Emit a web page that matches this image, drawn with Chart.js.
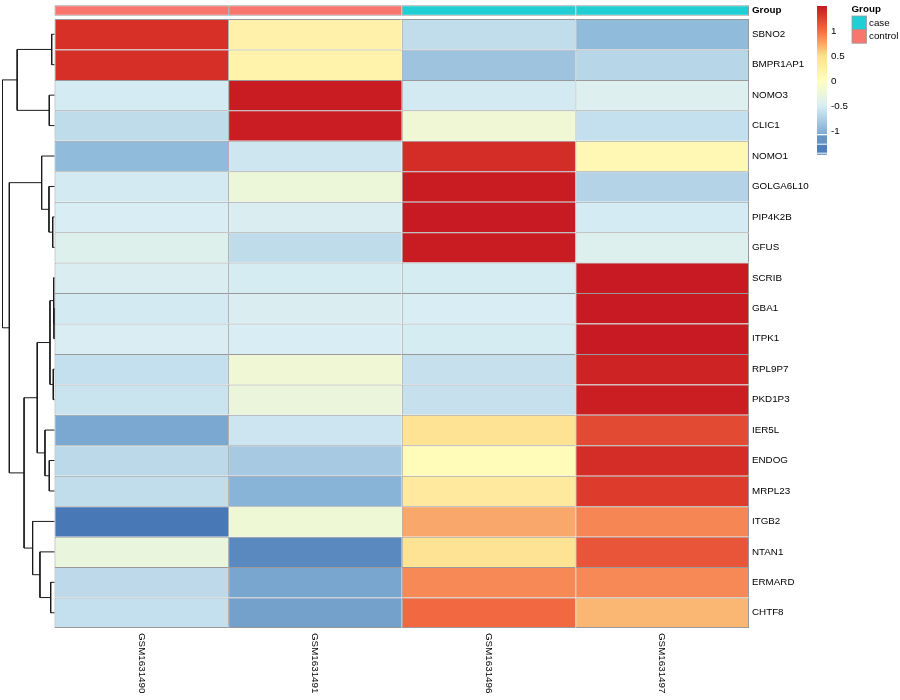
<!DOCTYPE html>
<html>
<head>
<meta charset="utf-8">
<script src="https://cdn.jsdelivr.net/npm/chart.js@4.4.0/dist/chart.umd.min.js"></script>
<style>
  html, body { margin: 0; padding: 0; background: #fff; }
  #wrap { position: relative; width: 900px; height: 700px; }
</style>
</head>
<body>
<div id="wrap"><canvas id="heatmap" width="900" height="700"></canvas></div>
<script>
// rows, top to bottom (dendrogram order)
const genes = ["SBNO2", "BMPR1AP1", "NOMO3", "CLIC1", "NOMO1", "GOLGA6L10", "PIP4K2B", "GFUS",
  "SCRIB", "GBA1", "ITPK1", "RPL9P7", "PKD1P3", "IER5L", "ENDOG", "MRPL23", "ITGB2", "NTAN1",
  "ERMARD", "CHTF8"];
const samples = ["GSM1631490", "GSM1631491", "GSM1631496", "GSM1631497"];
const groups = ["control", "control", "case", "case"];
const groupLevels = ["case", "control"];

// row-scaled expression (z-score), one list per sample, same order as genes
const gsm1631490 = [1.35, 1.36, -0.52, -0.65, -0.93, -0.53, -0.50, -0.42, -0.48, -0.53,
  -0.49, -0.62, -0.59, -1.08, -0.67, -0.64, -1.44, -0.28, -0.66, -0.62];
const gsm1631491 = [0.22, 0.20, 1.49, 1.48, -0.56, -0.24, -0.48, -0.65, -0.51, -0.47,
  -0.50, -0.21, -0.27, -0.57, -0.80, -0.99, -0.20, -1.31, -1.10, -1.13];
const gsm1631496 = [-0.64, -0.86, -0.53, -0.21, 1.38, 1.49, 1.50, 1.49, -0.51, -0.50,
  -0.51, -0.61, -0.61, 0.45, 0.06, 0.35, 0.75, 0.45, 0.88, 1.03];
const gsm1631497 = [-0.93, -0.70, -0.44, -0.62, 0.11, -0.72, -0.52, -0.43, 1.50, 1.50,
  1.50, 1.44, 1.47, 1.20, 1.38, 1.28, 0.89, 1.14, 0.88, 0.68];
const zscores = [gsm1631490, gsm1631491, gsm1631496, gsm1631497];

// row dendrogram merges: [left, right, height]; a string is a gene, a number an earlier merge
const merges = [
  ["SBNO2", "BMPR1AP1", 0.28],
  ["NOMO3", "CLIC1", 0.52],
  [0, 1, 3.72],
  ["PIP4K2B", "GFUS", 0.18],
  ["GOLGA6L10", 3, 0.55],
  ["NOMO1", 4, 1.28],
  ["GBA1", "ITPK1", 0.05],
  ["SCRIB", 6, 0.10],
  ["RPL9P7", "PKD1P3", 0.12],
  [7, 8, 0.45],
  ["ENDOG", "MRPL23", 0.52],
  ["IER5L", 10, 0.95],
  [9, 11, 1.72],
  ["ERMARD", "CHTF8", 0.38],
  ["NTAN1", 13, 1.45],
  ["ITGB2", 14, 2.18],
  [12, 15, 3.03],
  [5, 16, 4.50],
  [2, 17, 5.18],
];

// colour key
const keyTicks = [1, 0.5, 0, -0.5, -1];
const keyMin = -1.46;
const keyMax = 1.5;

// colour ramp (value -> colour)
const rampStops = [-1.46, -1.0, -0.5, 0, 0.5, 1.0, 1.35, 1.5];
const rampColors = ["#4575B4", "#86B3D6", "#D8EDF4", "#FFFFBF", "#FEE090", "#F46D43", "#D73027", "#C81A22"];
const groupColors = { case: "#1FCFD3", control: "#F8766D" };

const FONT = "'Liberation Sans', Arial, Helvetica, sans-serif";
const FONT_SIZE = 9.8;
const CELL_BORDER = "#999999";
const area = { left: 54.5, top: 19, right: 749, bottom: 628 };
const dendroWidth = 52;
const annotTop = 5.3;
const annotHeight = 10.4;

function hexToRgb(h) {
  const n = parseInt(h.slice(1), 16);
  return [(n >> 16) & 255, (n >> 8) & 255, n & 255];
}

function rampColor(v) {
  v = Math.max(rampStops[0], Math.min(rampStops[rampStops.length - 1], v));
  let i = 0;
  while (i < rampStops.length - 2 && v > rampStops[i + 1]) i++;
  const t = (v - rampStops[i]) / (rampStops[i + 1] - rampStops[i]);
  const a = hexToRgb(rampColors[i]);
  const b = hexToRgb(rampColors[i + 1]);
  const c = a.map((x, k) => Math.round(x + (b[k] - x) * t));
  return `rgb(${c[0]},${c[1]},${c[2]})`;
}

// each cell draws its top/left edge, the outer cells also close the frame
function cellBorder(lastCol, lastRow) {
  return { top: 1, left: 1, right: lastCol ? 1 : 0, bottom: lastRow ? 1 : 0 };
}

// heatmap cells, one dataset per sample
const cellDatasets = samples.map((s, c) => ({
  type: "bar",
  label: s,
  indexAxis: "y",
  xAxisID: "x",
  yAxisID: "y",
  data: genes.map(() => [c, c + 1]),
  backgroundColor: zscores[c].map(rampColor),
  borderColor: CELL_BORDER,
  borderWidth: (ctx) => cellBorder(c === samples.length - 1, ctx.dataIndex === genes.length - 1),
  borderSkipped: false,
  grouped: false,
  barPercentage: 1,
  categoryPercentage: 1,
  inflateAmount: 0,
  clip: false,
}));

// annotation bar above the heatmap
const annotDataset = {
  type: "bar",
  label: "Group",
  indexAxis: "x",
  xAxisID: "xa",
  yAxisID: "ya",
  data: samples.map((s, c) => ({ x: c + 0.5, y: [0, 1] })),
  backgroundColor: groups.map((g) => groupColors[g]),
  borderColor: CELL_BORDER,
  borderWidth: (ctx) => cellBorder(ctx.dataIndex === samples.length - 1, true),
  borderSkipped: false,
  grouped: false,
  barPercentage: 1,
  categoryPercentage: 1,
  inflateAmount: 0,
  clip: false,
};

// dendrogram, one line per merge
const nodePos = [];
function childPos(ref) {
  if (typeof ref === "string") return { y: genes.indexOf(ref), h: 0 };
  return nodePos[ref];
}
const dendroDatasets = merges.map(([l, r, h]) => {
  const a = childPos(l);
  const b = childPos(r);
  nodePos.push({ y: (a.y + b.y) / 2, h: h });
  return {
    type: "line",
    xAxisID: "xd",
    yAxisID: "yd",
    data: [
      { x: a.h, y: a.y },
      { x: h, y: a.y },
      { x: h, y: b.y },
      { x: b.h, y: b.y },
    ],
    borderColor: "#1a1a1a",
    borderWidth: 1,
    pointRadius: 0,
    fill: false,
    tension: 0,
    clip: false,
  };
});

const areaW = area.right - area.left;
const areaH = area.bottom - area.top;
const rootHeight = Math.max(...merges.map((m) => m[2]));
const dendroUnits = areaW / (dendroWidth / rootHeight);
const annotMin = (area.top - annotTop) / annotHeight;

const extras = {
  id: "extras",
  afterDraw(chart) {
    const ctx = chart.ctx;
    const xs = chart.scales.x;
    ctx.save();
    ctx.fillStyle = "#000";

    // column labels, rotated to read downwards
    ctx.font = `${FONT_SIZE}px ${FONT}`;
    ctx.textAlign = "left";
    ctx.textBaseline = "middle";
    samples.forEach((s, c) => {
      ctx.save();
      ctx.translate(xs.getPixelForValue(c + 0.5), area.bottom + 5);
      ctx.rotate(Math.PI / 2);
      ctx.fillText(s, 0, 0);
      ctx.restore();
    });

    // annotation name
    ctx.font = `bold ${FONT_SIZE}px ${FONT}`;
    ctx.fillText("Group", area.right + 3, annotTop + annotHeight / 2);

    // colour key
    const kx = 817, kw = 10;
    const ky = (v) => 81 - 50 * v;
    for (let y = ky(keyMax); y < 134; y += 1) {
      ctx.fillStyle = rampColor((81 - y - 0.5) / 50);
      ctx.fillRect(kx, y, kw, 1.05);
    }
    [[135.3, 143.7, -1.23], [144.7, 152.7, -1.38], [153.7, 154.7, keyMin]].forEach(([y0, y1, v]) => {
      ctx.fillStyle = rampColor(v);
      ctx.fillRect(kx, y0, kw, y1 - y0);
    });
    ctx.fillStyle = "#000";
    ctx.font = `${FONT_SIZE}px ${FONT}`;
    keyTicks.forEach((t) => ctx.fillText(String(t), 831, ky(t)));

    // annotation legend
    ctx.font = `bold ${FONT_SIZE}px ${FONT}`;
    ctx.fillText("Group", 851.5, 9.7);
    ctx.font = `${FONT_SIZE}px ${FONT}`;
    groupLevels.forEach((g, i) => {
      const y0 = 16 + i * 13.6;
      ctx.fillStyle = groupColors[g];
      ctx.fillRect(852, y0, 14.5, 13.6);
      ctx.strokeStyle = CELL_BORDER;
      ctx.lineWidth = 0.8;
      ctx.strokeRect(852, y0, 14.5, 13.6);
      ctx.fillStyle = "#000";
      ctx.fillText(g, 869, y0 + 7);
    });
    ctx.restore();
  },
};

new Chart(document.getElementById("heatmap"), {
  type: "bar",
  data: {
    labels: genes,
    datasets: [...cellDatasets, annotDataset, ...dendroDatasets],
  },
  options: {
    responsive: false,
    animation: false,
    devicePixelRatio: 1,
    layout: {
      padding: { left: area.left, top: area.top, right: 0, bottom: 700 - area.bottom },
    },
    plugins: { legend: { display: false }, tooltip: { enabled: false } },
    scales: {
      x: { type: "linear", position: "bottom", display: false, min: 0, max: samples.length, offset: false,
        ticks: { stepSize: 1 } },
      xa: { type: "linear", position: "bottom", display: false, min: 0, max: samples.length, offset: false,
        ticks: { stepSize: 1 } },
      xd: { type: "linear", position: "bottom", display: false, reverse: true, min: -dendroUnits, max: 0,
        offset: false },
      y: {
        type: "category",
        position: "right",
        labels: genes,
        offset: true,
        grid: { display: false, drawTicks: false },
        border: { display: false },
        ticks: { autoSkip: false, padding: 3, color: "#000", font: { family: FONT, size: FONT_SIZE } },
        afterFit: (s) => { s.width = 900 - area.right; },
      },
      yd: { type: "linear", position: "left", display: false, reverse: true, min: -0.5, max: genes.length - 0.5 },
      ya: { type: "linear", position: "left", display: false, reverse: true, min: annotMin,
        max: annotMin + areaH / annotHeight },
    },
  },
  plugins: [extras],
});
</script>
</body>
</html>
